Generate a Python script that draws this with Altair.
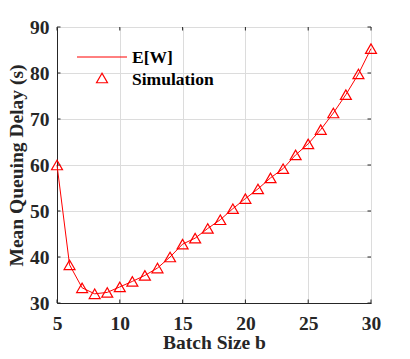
import altair as alt
import pandas as pd

# Data
batch_size = list(range(5, 31))
ew_values = [60.0, 38.3, 33.3, 32.0, 32.3, 33.5, 34.7, 36.0, 37.6, 40.0,
             42.8, 44.1, 46.2, 48.1, 50.5, 52.7, 54.8, 57.2, 59.2, 62.2,
             64.6, 67.7, 71.3, 75.3, 79.8, 85.3]
sim_values = [60.0, 38.3, 33.3, 32.0, 32.3, 33.5, 34.7, 36.0, 37.6, 40.0,
              42.8, 44.1, 46.2, 48.1, 50.5, 52.7, 54.8, 57.2, 59.2, 62.2,
              64.6, 67.7, 71.3, 75.3, 79.8, 85.3]
x_ticks = [5, 10, 15, 20, 25, 30]
y_ticks = [30, 40, 50, 60, 70, 80, 90]
legend_labels = ["E[W]", "Simulation"]

df = pd.DataFrame({"b": batch_size, "EW": ew_values, "Sim": sim_values})
xt = pd.DataFrame({"xt": x_ticks})
yt = pd.DataFrame({"yt": y_ticks})

FONT = "Liberation Serif"
W, H = 314, 276
FS = 19.5
TICK = 3.5
AX = "#262626"

x_scale = alt.Scale(domain=[5, 30], nice=False, zero=False)
y_scale = alt.Scale(domain=[30, 90], nice=False, zero=False)

x_enc = alt.X("b:Q", scale=x_scale,
              axis=alt.Axis(values=x_ticks, title="Batch Size b", labelPadding=11,
                            titlePadding=1))
y_axis = alt.Axis(values=y_ticks, title="Mean Queuing Delay (s)", labelPadding=8,
                  titlePadding=3)

line = alt.Chart(df).mark_line(color="#ff0000", strokeWidth=1).encode(
    x=x_enc, y=alt.Y("EW:Q", scale=y_scale, axis=y_axis))
pts = alt.Chart(df).mark_point(shape="triangle-up", filled=False, color="#ff0000",
                               size=120, strokeWidth=1.2, opacity=1).encode(
    x=alt.X("b:Q"), y=alt.Y("Sim:Q"))

# inward tick marks on all four sides (box style)
tick_bottom = alt.Chart(xt).mark_rule(color=AX, strokeWidth=1).encode(
    x=alt.X("xt:Q", scale=x_scale), y=alt.value(H), y2=alt.value(H - TICK))
tick_top = alt.Chart(xt).mark_rule(color=AX, strokeWidth=1).encode(
    x=alt.X("xt:Q", scale=x_scale), y=alt.value(0), y2=alt.value(TICK))
tick_left = alt.Chart(yt).mark_rule(color=AX, strokeWidth=1).encode(
    y=alt.Y("yt:Q", scale=y_scale), x=alt.value(0), x2=alt.value(TICK))
tick_right = alt.Chart(yt).mark_rule(color=AX, strokeWidth=1).encode(
    y=alt.Y("yt:Q", scale=y_scale), x=alt.value(W - TICK), x2=alt.value(W))

one = pd.DataFrame({"k": [0]})
leg_line = alt.Chart(one).mark_rule(color="#ff0000", strokeWidth=1).encode(
    x=alt.value(20), x2=alt.value(70), y=alt.value(30))
leg_pt = alt.Chart(one).mark_point(shape="triangle-up", filled=False, color="#ff0000",
                                   size=120, strokeWidth=1.2, opacity=1).encode(
    x=alt.value(45), y=alt.value(51))


def leg_label(txt, ypos):
    return alt.Chart(pd.DataFrame({"t": [txt]})).mark_text(
        font=FONT, fontWeight="bold", fontSize=17.5, align="left", baseline="middle",
        color="black").encode(x=alt.value(75), y=alt.value(ypos), text="t:N")


chart = alt.layer(line, tick_bottom, tick_top, tick_left, tick_right, pts,
                  leg_line, leg_pt,
                  leg_label(legend_labels[0], 31),
                  leg_label(legend_labels[1], 53)).properties(
    width=W, height=H,
    autosize=alt.AutoSizeParams(type="none"),
    padding={"left": 49, "top": 19, "right": 31, "bottom": 48},
).configure_view(stroke=AX, strokeWidth=1).configure_axis(
    labelFont=FONT, labelFontWeight="bold", labelFontSize=FS, labelColor=AX,
    titleFont=FONT, titleFontWeight="bold", titleFontSize=FS, titleColor=AX,
    domainColor=AX, domainWidth=1, ticks=False,
    gridColor="#dcdcdc", gridWidth=1, labelFlush=False,
)

chart.save("out.html", embed_options={"renderer": "svg", "actions": False})
